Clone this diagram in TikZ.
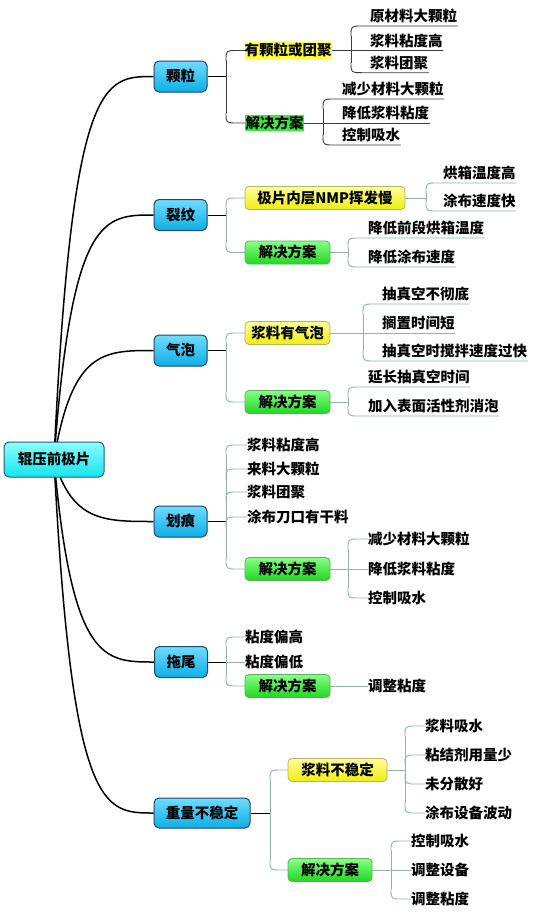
\documentclass[tikz,border=0pt]{standalone}
\usepackage{fontspec}
\newfontfamily\cjk{Noto Sans CJK SC}
\usetikzlibrary{calc}
\pgfdeclarelayer{bg}
\pgfsetlayers{bg,main}
\definecolor{rootT}{HTML}{8AFFFF}
\definecolor{rootB}{HTML}{14E4EE}
\definecolor{rootD}{HTML}{24606A}
\definecolor{blT}{HTML}{6FDCFF}
\definecolor{blB}{HTML}{0EAEE6}
\definecolor{blD}{HTML}{1E4866}
\definecolor{yT}{HTML}{FFFF99}
\definecolor{yB}{HTML}{EEEE10}
\definecolor{yD}{HTML}{B4B46A}
\definecolor{gT}{HTML}{88FF88}
\definecolor{gB}{HTML}{1ED81E}
\definecolor{gD}{HTML}{5CB05C}
\definecolor{hlY}{HTML}{FFFF3C}
\definecolor{hlG}{HTML}{3CE83C}
\definecolor{twigc}{HTML}{93B3A5}
\definecolor{dkl}{HTML}{3C3C3C}
\newcommand\mytwig[5]{\draw[#1] ($(#3 -| #2)+(0,#4)$) .. controls (#3 -| #2) .. ($(#3 -| #2)+(11,0)$) -- (#3) #5;}
\newcommand\myrootc[1]{\draw[rootline] (root.center) .. controls (rP |- #1.west) and ($(#1.west)+(-50,0)$) .. (#1.west);}
\tikzset{
 base/.style={font=\cjk\bfseries\fontsize{14.5}{16}\selectfont, text height=10.8pt, text depth=0pt, inner sep=0pt},
 rootbox/.style={base, draw=rootD, line width=1pt, rounded corners=5pt, top color=rootT, bottom color=rootB, minimum width=100pt, minimum height=35pt},
 lbox/.style={base, draw=blD, line width=1pt, rounded corners=5pt, top color=blT, bottom color=blB, minimum width=53pt, minimum height=31pt},
 ybox/.style={base, draw=yD, line width=0.8pt, rounded corners=4pt, top color=yT, bottom color=yB, minimum height=23pt},
 gbox/.style={base, draw=gD, line width=0.8pt, rounded corners=4pt, top color=gT, bottom color=gB, minimum height=23pt},
 hly/.style={base, fill=hlY, minimum height=17pt},
 hlg/.style={base, fill=hlG, minimum height=16pt},
 leafU/.style={base, anchor=south west, inner ysep=4pt},
 leafM/.style={base, anchor=west},
 rootline/.style={line width=1.5pt, black},
 blk/.style={line width=1pt, black},
 gl/.style={line width=0.9pt, twigc, line cap=round},
 dk/.style={line width=0.9pt, dkl, line cap=round}
}
\begin{document}
\begin{tikzpicture}[x=1pt, y=-1pt]
\useasboundingbox (0,0) rectangle (538,918);
% root and level 1
\node[rootbox] (root) at (54,459.5) {辊压前极片};
\node[lbox] (k1) at (180.5,76.5) {颗粒};
\node[lbox] (k2) at (180.5,215) {裂纹};
\node[lbox] (k3) at (180.5,350.5) {气泡};
\node[lbox] (k4) at (180.5,521.5) {划痕};
\node[lbox] (k5) at (181,662) {拖尾};
\node[lbox, minimum width=96pt, minimum height=30pt] (k6) at (202,813) {重量不稳定};
\coordinate (rP) at (72,0);
\coordinate (sA) at (226,0);
\coordinate (sB) at (351,0);
\coordinate (sC) at (323,0);
\coordinate (sD) at (426,0);
\coordinate (sE) at (348,0);
\coordinate (sF) at (363,0);
\coordinate (sG) at (270,0);
\coordinate (sH) at (405,0);
\coordinate (sI) at (391,0);
% subtree 1
\node[hly, minimum width=87pt] (k1a) at (288,50.5) {有颗粒或团聚};
\node[hlg, minimum width=59pt] (k1b) at (274.5,123) {解决方案};
\node[leafU] (k1a1) at (370,26) {原材料大颗粒};
\node[leafU] (k1a2) at (370,50.5) {浆料粘度高};
\node[leafU] (k1a3) at (370,72.7) {浆料团聚};
\node[leafU] (k1b1) at (342,99) {减少材料大颗粒};
\node[leafU] (k1b2) at (342,123) {降低浆料粘度};
\node[leafU] (k1b3) at (342,145) {控制吸水};
% subtree 2
\node[ybox, minimum width=160pt] (k2a) at (325,198) {极片内层NMP挥发慢};
\node[gbox, minimum width=85pt] (k2b) at (287.5,252.5) {解决方案};
\node[leafU] (k2a1) at (443,183) {烘箱温度高};
\node[leafU] (k2a2) at (443,211) {涂布速度快};
\node[leafU] (k2b1) at (368,238) {降低前段烘箱温度};
\node[leafU] (k2b2) at (368,267) {降低涂布速度};
% subtree 3
\node[ybox, minimum width=85pt] (k3a) at (287.5,333) {浆料有气泡};
\node[gbox, minimum width=85pt] (k3b) at (287.5,402) {解决方案};
\node[leafU] (k3a1) at (382,304) {抽真空不彻底};
\node[leafU] (k3a2) at (382,333) {搁置时间短};
\node[leafU] (k3a3) at (382,361) {抽真空时搅拌速度过快};
\node[leafU] (k3b1) at (368,387) {延长抽真空时间};
\node[leafU] (k3b2) at (368,416) {加入表面活性剂消泡};
% subtree 4
\node[leafM] (k4a) at (247,445) {浆料粘度高};
\node[leafM] (k4b) at (247,469) {来料大颗粒};
\node[leafM] (k4c) at (247,492) {浆料团聚};
\node[leafM] (k4d) at (247,517) {涂布刀口有干料};
\node[gbox, minimum width=85pt] (k4e) at (287.5,569) {解决方案};
\node[leafM] (k4e1) at (368,539) {减少材料大颗粒};
\node[leafM] (k4e2) at (368,569) {降低浆料粘度};
\node[leafM] (k4e3) at (368,598) {控制吸水};
% subtree 5
\node[leafM] (k5a) at (245,637) {粘度偏高};
\node[leafM] (k5b) at (245,662) {粘度偏低};
\node[gbox, minimum width=85pt] (k5c) at (287.5,686) {解决方案};
\node[leafM] (k5d) at (368,686) {调整粘度};
% subtree 6
\node[ybox, minimum width=99pt] (k6a) at (337.5,770) {浆料不稳定};
\node[gbox, minimum width=84pt] (k6b) at (330,870) {解决方案};
\node[leafM] (k6a1) at (425,726) {浆料吸水};
\node[leafM] (k6a2) at (425,755) {粘结剂用量少};
\node[leafM] (k6a3) at (425,784) {未分散好};
\node[leafM] (k6a4) at (425,813) {涂布设备波动};
\node[leafM] (k6b1) at (411,841) {控制吸水};
\node[leafM] (k6b2) at (411,870) {调整设备};
\node[leafM] (k6b3) at (411,899) {调整粘度};

\begin{pgfonlayer}{bg}
\fill[white] (0,0) rectangle (538,918);
\myrootc{k1}\myrootc{k2}\myrootc{k3}\myrootc{k4}\myrootc{k5}\myrootc{k6}
% subtree 1
\draw[blk] (k1.east) -- (k1.east -| sA);
\mytwig{dk}{sA}{k1a.west}{10}{}
\mytwig{dk}{sA}{k1b.west}{-10}{}
\draw[dk] ($(k1a.west -| sA)+(0,10)$) -- ($(k1b.west -| sA)+(0,-10)$);
\draw[dk] (k1a.east) -- (k1a2.south east);
\mytwig{dk}{sB}{k1a1.south west}{10}{-- (k1a1.south east)}
\mytwig{dk}{sB}{k1a3.south west}{-10}{-- (k1a3.south east)}
\draw[dk] ($(k1a1.south west -| sB)+(0,10)$) -- ($(k1a3.south west -| sB)+(0,-10)$);
\draw[dk] (k1b.east) -- (k1b2.south east);
\mytwig{dk}{sC}{k1b1.south west}{10}{-- (k1b1.south east)}
\mytwig{dk}{sC}{k1b3.south west}{-10}{-- (k1b3.south east)}
\draw[dk] ($(k1b1.south west -| sC)+(0,10)$) -- ($(k1b3.south west -| sC)+(0,-10)$);
% subtree 2
\draw[blk] (k2.east) -- (k2.east -| sA);
\mytwig{gl}{sA}{k2a.west}{10}{}
\mytwig{gl}{sA}{k2b.west}{-10}{}
\draw[gl] ($(k2a.west -| sA)+(0,10)$) -- ($(k2b.west -| sA)+(0,-10)$);
\draw[gl] (k2a.east) -- (k2a.east -| sD);
\mytwig{gl}{sD}{k2a1.south west}{10}{-- (k2a1.south east)}
\mytwig{gl}{sD}{k2a2.south west}{-10}{-- (k2a2.south east)}
\draw[gl] ($(k2a1.south west -| sD)+(0,10)$) -- ($(k2a2.south west -| sD)+(0,-10)$);
\draw[gl] (k2b.east) -- (k2b.east -| sE);
\mytwig{gl}{sE}{k2b1.south west}{10}{-- (k2b1.south east)}
\mytwig{gl}{sE}{k2b2.south west}{-10}{-- (k2b2.south east)}
\draw[gl] ($(k2b1.south west -| sE)+(0,10)$) -- ($(k2b2.south west -| sE)+(0,-10)$);
% subtree 3
\draw[blk] (k3.east) -- (k3.east -| sA);
\mytwig{gl}{sA}{k3a.west}{10}{}
\mytwig{gl}{sA}{k3b.west}{-10}{}
\draw[gl] ($(k3a.west -| sA)+(0,10)$) -- ($(k3b.west -| sA)+(0,-10)$);
\draw[gl] (k3a.east) -- (k3a2.south east);
\mytwig{gl}{sF}{k3a1.south west}{10}{-- (k3a1.south east)}
\mytwig{gl}{sF}{k3a3.south west}{-10}{-- (k3a3.south east)}
\draw[gl] ($(k3a1.south west -| sF)+(0,10)$) -- ($(k3a3.south west -| sF)+(0,-10)$);
\draw[gl] (k3b.east) -- (k3b.east -| sE);
\mytwig{gl}{sE}{k3b1.south west}{10}{-- (k3b1.south east)}
\mytwig{gl}{sE}{k3b2.south west}{-10}{-- (k3b2.south east)}
\draw[gl] ($(k3b1.south west -| sE)+(0,10)$) -- ($(k3b2.south west -| sE)+(0,-10)$);
% subtree 4
\draw[blk] (k4.east) -- (k4.east -| sA);
\mytwig{gl}{sA}{k4a.west}{10}{}
\mytwig{gl}{sA}{k4b.west}{10}{}
\mytwig{gl}{sA}{k4c.west}{10}{}
\mytwig{gl}{sA}{k4d.west}{10}{}
\mytwig{gl}{sA}{k4e.west}{-10}{}
\draw[gl] ($(k4a.west -| sA)+(0,10)$) -- ($(k4e.west -| sA)+(0,-10)$);
\draw[gl] (k4e.east) -- (k4e2.west);
\mytwig{gl}{sE}{k4e1.west}{10}{}
\mytwig{gl}{sE}{k4e3.west}{-10}{}
\draw[gl] ($(k4e1.west -| sE)+(0,10)$) -- ($(k4e3.west -| sE)+(0,-10)$);
% subtree 5
\draw[blk] (k5.east) -- (k5.east -| sA);
\draw[gl] (k5.east -| sA) -- (k5b.west);
\mytwig{gl}{sA}{k5a.west}{10}{}
\mytwig{gl}{sA}{k5c.west}{-10}{}
\draw[gl] ($(k5a.west -| sA)+(0,10)$) -- ($(k5c.west -| sA)+(0,-10)$);
\draw[gl] (k5c.east) -- (k5d.west);
% subtree 6
\draw[blk] (k6.east) -- (k6.east -| sG);
\mytwig{gl}{sG}{k6a.west}{10}{}
\mytwig{gl}{sG}{k6b.west}{-10}{}
\draw[gl] ($(k6a.west -| sG)+(0,10)$) -- ($(k6b.west -| sG)+(0,-10)$);
\draw[gl] (k6a.east) -- (k6a.east -| sH);
\mytwig{gl}{sH}{k6a1.west}{10}{}
\mytwig{gl}{sH}{k6a2.west}{10}{}
\mytwig{gl}{sH}{k6a3.west}{-10}{}
\mytwig{gl}{sH}{k6a4.west}{-10}{}
\draw[gl] ($(k6a1.west -| sH)+(0,10)$) -- ($(k6a4.west -| sH)+(0,-10)$);
\draw[gl] (k6b.east) -- (k6b2.west);
\mytwig{gl}{sI}{k6b1.west}{10}{}
\mytwig{gl}{sI}{k6b3.west}{-10}{}
\draw[gl] ($(k6b1.west -| sI)+(0,10)$) -- ($(k6b3.west -| sI)+(0,-10)$);
\end{pgfonlayer}
\end{tikzpicture}
\end{document}
